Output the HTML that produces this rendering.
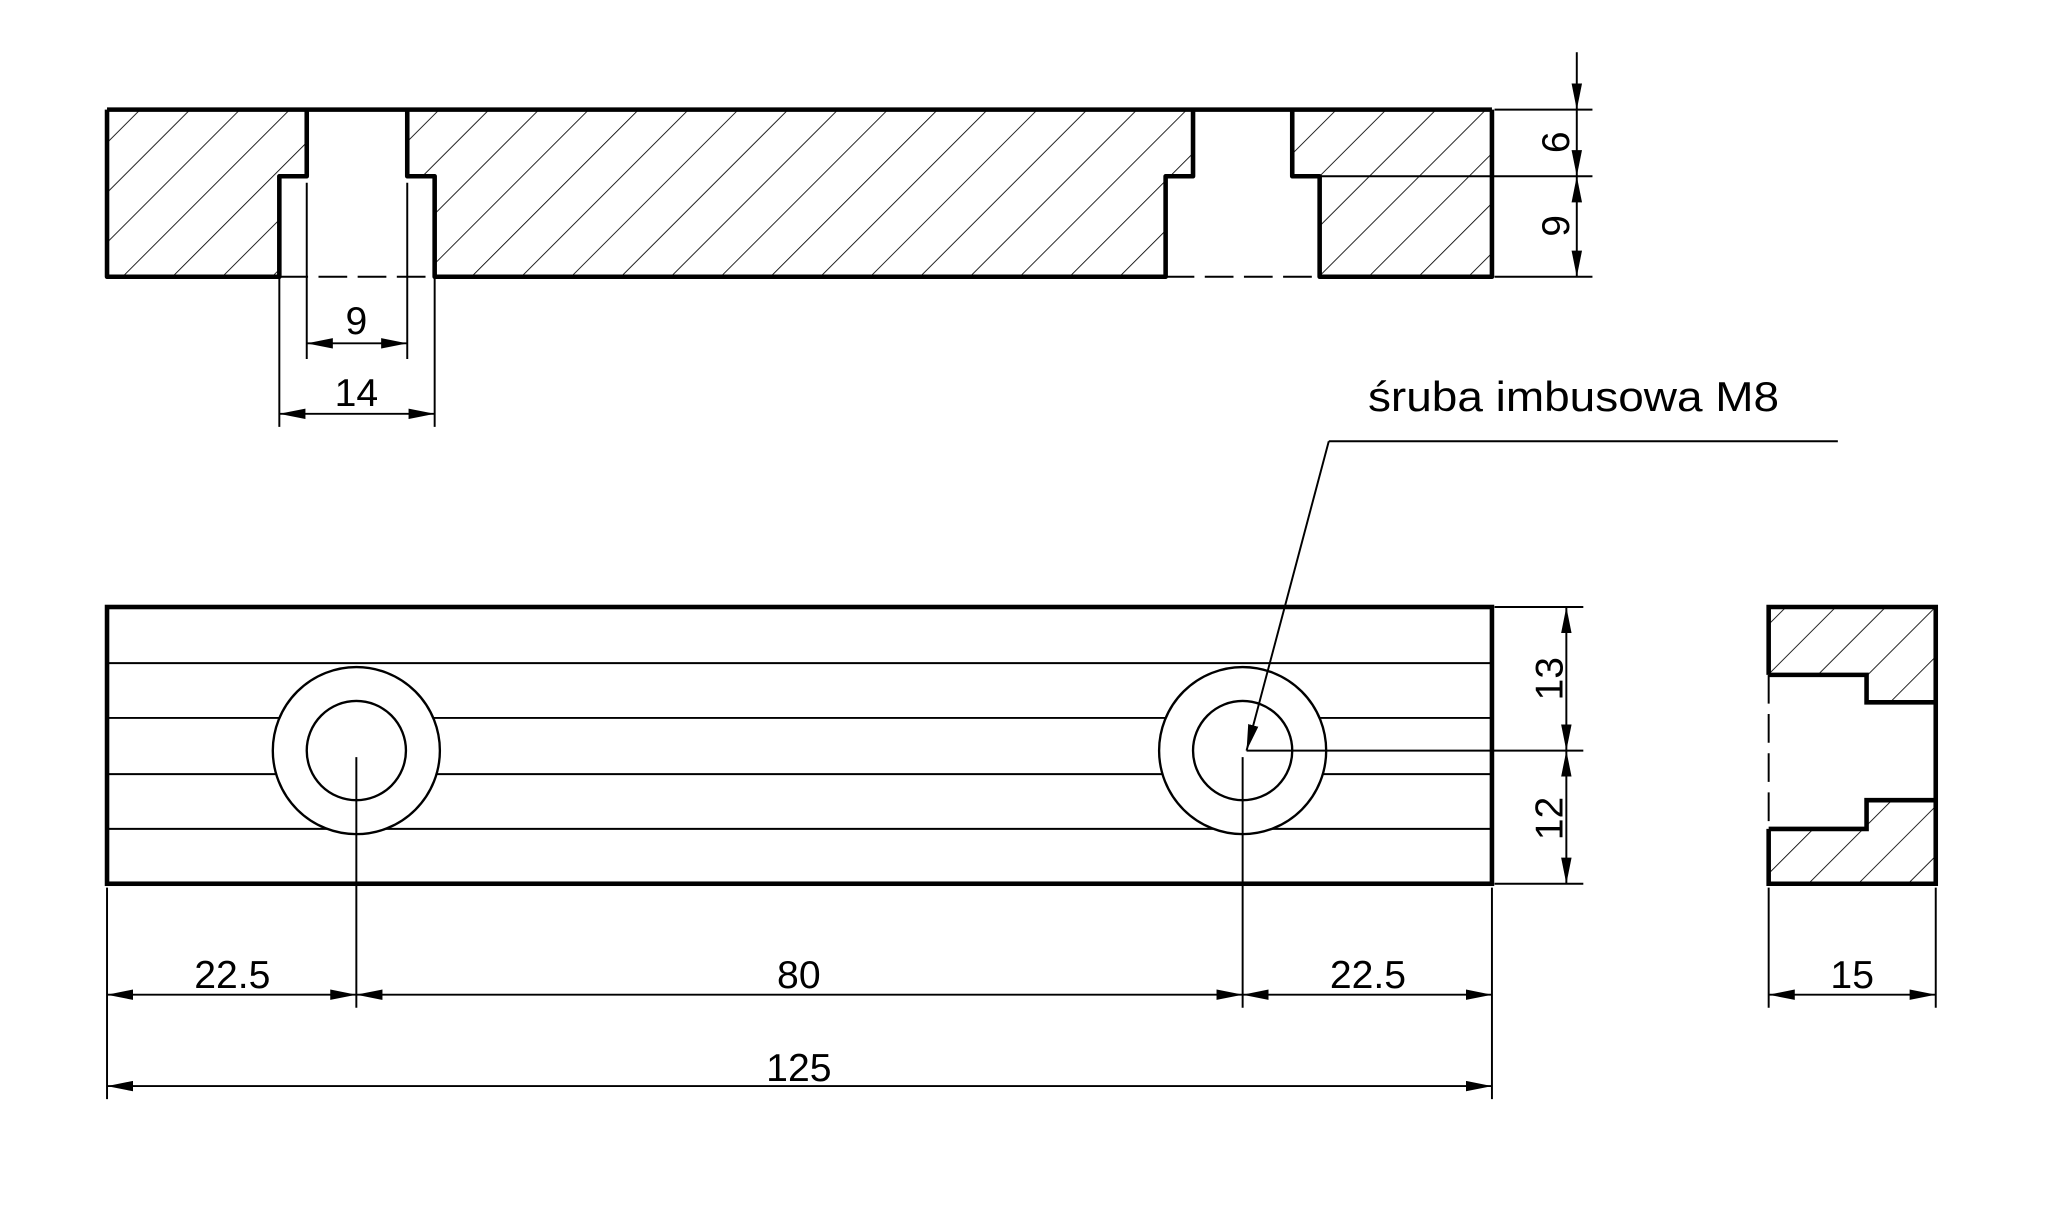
<!DOCTYPE html>
<html><head><meta charset="utf-8"><style>
html,body{margin:0;padding:0;background:#fff}
svg{display:block}
text{font-family:"Liberation Sans Narrow","Liberation Sans",sans-serif;fill:#000}
</style></head><body>
<svg width="2048" height="1214" viewBox="0 0 1569 930" preserveAspectRatio="none" xmlns="http://www.w3.org/2000/svg">
<defs>
<pattern id="h" patternUnits="userSpaceOnUse" width="27" height="27" patternTransform="rotate(45)">
<line x1="0" y1="0" x2="0" y2="27" stroke="#000" stroke-width="1.3"/>
</pattern>
<marker id="a" viewBox="0 0 20 8" refX="20" refY="4" markerWidth="20" markerHeight="8" orient="auto-start-reverse" markerUnits="userSpaceOnUse">
<path d="M0,0 L20,4 L0,8 z" fill="#000"/>
</marker>
</defs>
<rect width="1569" height="930" fill="#fff"/>

<g fill="url(#h)" stroke="none">
<polygon points="82,84 235,84 235,135 214,135 214,212 82,212"/>
<polygon points="312,84 914,84 914,135 893,135 893,212 333,212 333,135 312,135"/>
<polygon points="990,84 1143,84 1143,212 1011,212 1011,135 990,135"/>
</g>
<g stroke="#000" stroke-width="3.5" fill="none" stroke-linejoin="round">
<line x1="82" y1="84" x2="1143" y2="84"/>
<polyline points="235,84 235,135 214,135 214,212 82,212 82,84"/>
<polyline points="312,84 312,135 333,135 333,212 893,212 893,135 914,135 914,84"/>
<polyline points="990,84 990,135 1011,135 1011,212 1143,212 1143,84"/>
</g>
<g stroke="#000" stroke-width="1.5" fill="none">
<line x1="235" y1="140" x2="235" y2="275"/>
<line x1="312" y1="140" x2="312" y2="275"/>
<line x1="214" y1="212" x2="214" y2="327"/>
<line x1="333" y1="212" x2="333" y2="327"/>
<line x1="214" y1="212" x2="333" y2="212" stroke-dasharray="22,8"/>
<line x1="893" y1="212" x2="1011" y2="212" stroke-dasharray="22,8"/>
<line x1="235" y1="263" x2="312" y2="263" marker-start="url(#a)" marker-end="url(#a)"/>
<line x1="214" y1="317" x2="333" y2="317" marker-start="url(#a)" marker-end="url(#a)"/>
<line x1="1145" y1="84" x2="1220" y2="84"/>
<line x1="1011" y1="135" x2="1220" y2="135"/>
<line x1="1145" y1="212" x2="1220" y2="212"/>
<line x1="1208" y1="40" x2="1208" y2="84" marker-end="url(#a)"/>
<line x1="1208" y1="84" x2="1208" y2="135" marker-end="url(#a)"/>
<line x1="1208" y1="135" x2="1208" y2="212" marker-start="url(#a)" marker-end="url(#a)"/>
</g>
<text x="273" y="256" font-size="30" text-anchor="middle">9</text>
<text x="273" y="311" font-size="30" text-anchor="middle">14</text>
<text transform="translate(1202,109) rotate(-90)" font-size="30" text-anchor="middle">6</text>
<text transform="translate(1202,173) rotate(-90)" font-size="30" text-anchor="middle">9</text>

<text x="1048" y="315" font-size="32" textLength="315" lengthAdjust="spacingAndGlyphs" style="font-family:'Liberation Sans',sans-serif">śruba imbusowa M8</text>

<g stroke="#000" stroke-width="1.5">
<line x1="82" y1="508" x2="1143" y2="508"/>
<line x1="82" y1="550" x2="1143" y2="550"/>
<line x1="82" y1="593" x2="1143" y2="593"/>
<line x1="82" y1="635" x2="1143" y2="635"/>
</g>
<g stroke="#000" stroke-width="1.8" fill="#fff">
<circle cx="273" cy="575" r="64"/><circle cx="273" cy="575" r="38"/>
<circle cx="952" cy="575" r="64"/><circle cx="952" cy="575" r="38"/>
</g>
<rect x="82" y="465" width="1061" height="212" fill="none" stroke="#000" stroke-width="3.5"/>
<g stroke="#000" stroke-width="1.5" fill="none">
<line x1="1018" y1="338" x2="1408" y2="338"/>
<line x1="1018" y1="338" x2="955" y2="575" marker-end="url(#a)"/>
<line x1="273" y1="580" x2="273" y2="772"/>
<line x1="952" y1="580" x2="952" y2="772"/>
<line x1="955" y1="575" x2="1213" y2="575"/>
<line x1="1145" y1="465" x2="1213" y2="465"/>
<line x1="1145" y1="677" x2="1213" y2="677"/>
<line x1="1200" y1="465" x2="1200" y2="575" marker-start="url(#a)" marker-end="url(#a)"/>
<line x1="1200" y1="575" x2="1200" y2="677" marker-start="url(#a)" marker-end="url(#a)"/>
<line x1="82" y1="680" x2="82" y2="842"/>
<line x1="1143" y1="680" x2="1143" y2="842"/>
<line x1="82" y1="762" x2="273" y2="762" marker-start="url(#a)" marker-end="url(#a)"/>
<line x1="273" y1="762" x2="952" y2="762" marker-start="url(#a)" marker-end="url(#a)"/>
<line x1="952" y1="762" x2="1143" y2="762" marker-start="url(#a)" marker-end="url(#a)"/>
<line x1="82" y1="832" x2="1143" y2="832" marker-start="url(#a)" marker-end="url(#a)"/>
</g>
<text transform="translate(1197,520) rotate(-90)" font-size="30" text-anchor="middle">13</text>
<text transform="translate(1197,627) rotate(-90)" font-size="30" text-anchor="middle">12</text>
<text x="178" y="757" font-size="30" text-anchor="middle">22.5</text>
<text x="612" y="757" font-size="30" text-anchor="middle">80</text>
<text x="1048" y="757" font-size="30" text-anchor="middle">22.5</text>
<text x="612" y="828" font-size="30" text-anchor="middle">125</text>

<g fill="url(#h)">
<polygon points="1355,465 1483,465 1483,538 1430,538 1430,517 1355,517"/>
<polygon points="1355,677 1483,677 1483,613 1430,613 1430,635 1355,635"/>
</g>
<g stroke="#000" stroke-width="3.5" fill="none">
<polyline points="1355,517 1355,465 1483,465 1483,677 1355,677 1355,635"/>
<polyline points="1355,517 1430,517 1430,538 1483,538"/>
<polyline points="1355,635 1430,635 1430,613 1483,613"/>
</g>
<g stroke="#000" stroke-width="1.5" fill="none">
<line x1="1355" y1="517" x2="1355" y2="635" stroke-dasharray="22,8"/>
<line x1="1355" y1="680" x2="1355" y2="772"/>
<line x1="1483" y1="680" x2="1483" y2="772"/>
<line x1="1355" y1="762" x2="1483" y2="762" marker-start="url(#a)" marker-end="url(#a)"/>
</g>
<text x="1419" y="757" font-size="30" text-anchor="middle">15</text>
</svg>
</body></html>
